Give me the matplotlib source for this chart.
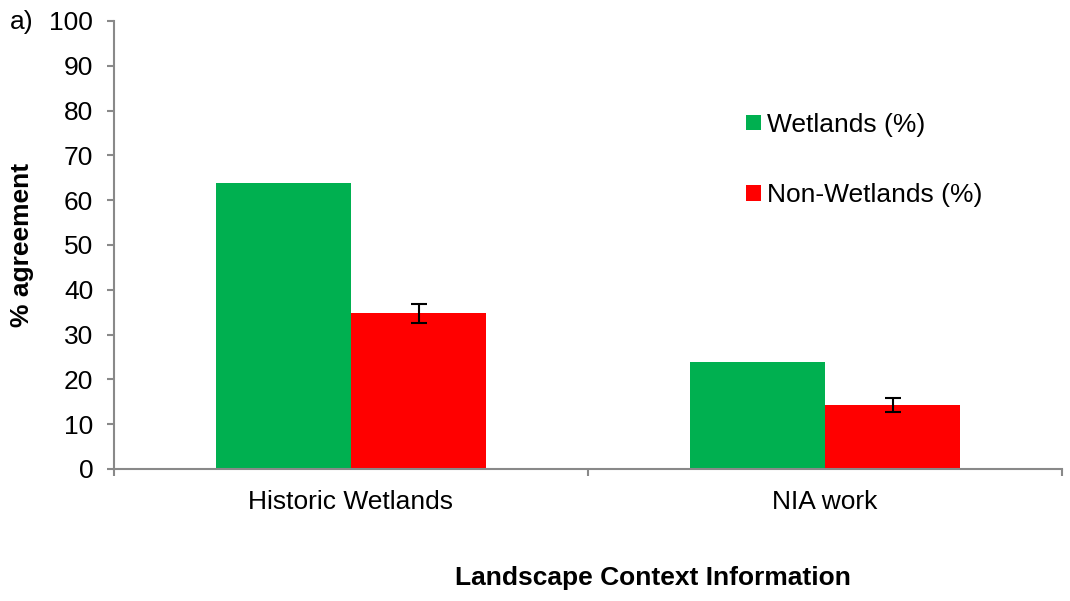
import numpy as np
import matplotlib.pyplot as plt

plt.rcParams["font.family"] = ["Liberation Sans", "DejaVu Sans"]

# -------------------------
# DATA
# -------------------------
categories = ["Historic Wetlands", "NIA work"]
wetlands = [63.8, 23.9]
non_wetlands = [34.8, 14.3]
non_wetlands_err = [2.1, 1.5]

FS = 19

# -------------------------
# PLOT
# -------------------------
fig = plt.figure(figsize=(10.7, 6.01), dpi=100)
ax = fig.add_axes([114 / 1070, 1 - 469 / 601, 948 / 1070, 448 / 601])

x = np.arange(len(categories))
w = 0.285

ax.bar(x - w / 2, wetlands, w, color="#00b050", label="Wetlands (%)")
ax.bar(x + w / 2, non_wetlands, w, color="#ff0000", label="Non-Wetlands (%)",
       yerr=non_wetlands_err, error_kw=dict(ecolor="black", elinewidth=1.5,
                                            capsize=6, capthick=1.5))

ax.set_xlim(-0.5, 1.5)
ax.set_ylim(0, 100)
ax.set_yticks(range(0, 101, 10))
ax.set_xticks(x)
ax.set_xticklabels(categories)
ax.set_xticks([-0.5, 0.5, 1.5], minor=True)
ax.tick_params(axis="x", which="major", length=0, pad=15, labelsize=FS)
ax.tick_params(axis="x", which="minor", length=5, width=1.5, color="#898989")
ax.tick_params(axis="y", length=5, width=1.5, color="#898989", labelsize=FS,
               pad=10)

for side in ["top", "right"]:
    ax.spines[side].set_visible(False)
for side in ["left", "bottom"]:
    ax.spines[side].set_color("#898989")
    ax.spines[side].set_linewidth(1.5)

ax.set_ylabel("% agreement", fontsize=FS, fontweight="bold")
ax.yaxis.label.set_va("center")
ax.yaxis.set_label_coords((22 - 114) / 948, 0.5)
ax.set_xlabel("Landscape Context Information", fontsize=FS,
              fontweight="bold")
ax.xaxis.label.set_va("center")
ax.xaxis.set_label_coords((653 - 114) / 948, -(578 - 469) / 448)

ax.legend(loc="upper left", bbox_to_anchor=(0.667, 0.795), frameon=False,
          fontsize=FS, handlelength=0.55, handleheight=0.55,
          handletextpad=0.25, labelspacing=1.75, borderpad=0,
          borderaxespad=0)

fig.text(10 / 1070, 1 - 22 / 601, "a)", fontsize=FS, va="center")

plt.savefig("out.png", dpi=100)
